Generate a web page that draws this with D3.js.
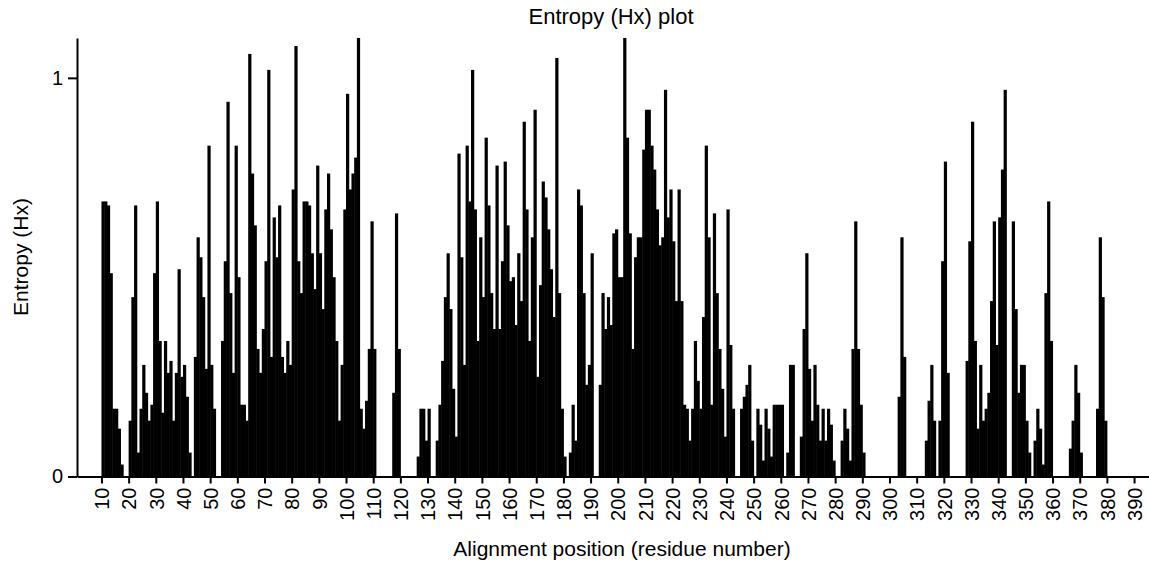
<!DOCTYPE html>
<html>
<head>
<meta charset="utf-8">
<script src="https://cdn.jsdelivr.net/npm/d3@7"></script>
<style>
  body { margin: 0; background: #fff; }
  svg { display: block; font-family: "Liberation Sans", Arial, sans-serif; }
</style>
</head>
<body>
<svg id="chart"></svg>
<script>
// entropy per alignment position, starting at position 10
const firstPosition = 10;
const entropy = [
  0.69, 0.69, 0.68, 0.51, 0.17, 0.17, 0.12, 0.03, 0, 0,          // 10
  0.14, 0.45, 0.68, 0.06, 0.17, 0.28, 0.21, 0.14, 0.18, 0.51,    // 20
  0.69, 0.34, 0.16, 0.34, 0.26, 0.29, 0.14, 0.26, 0.52, 0.25,    // 30
  0.28, 0.2, 0.06, 0, 0.3, 0.6, 0.55, 0.45, 0.27, 0.83,          // 40
  0.28, 0.17, 0, 0, 0.34, 0.54, 0.94, 0.46, 0.26, 0.83,          // 50
  0.5, 0.18, 0.18, 0.14, 1.06, 0.76, 0.63, 0.32, 0.26, 0.37,     // 60
  0.54, 1.02, 0.3, 0.65, 0.55, 0.68, 0.3, 0.26, 0.34, 0.28,      // 70
  0.72, 1.08, 0.54, 0.46, 0.69, 0.69, 0.68, 0.56, 0.47, 0.78,    // 80
  0.56, 0.42, 0.67, 0.76, 0.62, 0.5, 0.34, 0.14, 0.28, 0.67,     // 90
  0.96, 0.72, 0.76, 0.8, 1.1, 0.17, 0.12, 0.19, 0.32, 0.64,      // 100
  0.32, 0, 0, 0, 0, 0, 0, 0.21, 0.66, 0.32,                      // 110
  0, 0, 0, 0, 0, 0, 0.05, 0.17, 0.17, 0.09,                      // 120
  0.17, 0, 0, 0.09, 0.18, 0.29, 0.45, 0.56, 0.42, 0.22,          // 130
  0.1, 0.81, 0.55, 0.28, 0.83, 0.69, 1.02, 0.67, 0.34, 0.6,      // 140
  0.45, 0.85, 0.68, 0.46, 0.37, 0.78, 0.37, 0.54, 0.79, 0.63,    // 150
  0.49, 0.5, 0.38, 0.56, 0.44, 0.89, 0.67, 0.34, 0.6, 0.92,      // 160
  0.25, 0.48, 0.74, 0.7, 0.62, 0.52, 0.4, 1.05, 0.46, 0.17,      // 170
  0.05, 0, 0.06, 0.18, 0.09, 0.72, 0.68, 0.46, 0.23, 0.28,       // 180
  0.56, 0, 0, 0.23, 0.46, 0.37, 0.45, 0.38, 0.61, 0.62,          // 190
  0.5, 0.5, 1.1, 0.85, 0.61, 0.32, 0.55, 0.6, 0.6, 0.82,         // 200
  0.92, 0.92, 0.83, 0.77, 0.67, 0.58, 0.6, 0.97, 0.65, 0.72,     // 210
  0.59, 0.44, 0.72, 0.44, 0.18, 0.17, 0.09, 0.17, 0.34, 0.24,    // 220
  0.17, 0.4, 0.83, 0.6, 0.18, 0.66, 0.46, 0.32, 0.22, 0.1,       // 230
  0.67, 0.33, 0.17, 0, 0, 0.17, 0.2, 0.23, 0.28, 0.09,           // 240
  0, 0.17, 0.13, 0.04, 0.17, 0.12, 0.05, 0.18, 0.18, 0.18,       // 250
  0.18, 0, 0.06, 0.28, 0.28, 0, 0, 0.1, 0.37, 0.56,              // 260
  0.27, 0.14, 0.28, 0.18, 0.09, 0.17, 0.09, 0.17, 0.13, 0.04,    // 270
  0, 0, 0.09, 0.17, 0.12, 0.04, 0.32, 0.64, 0.32, 0.18,          // 280
  0.06, 0, 0, 0, 0, 0, 0, 0, 0, 0,                               // 290
  0, 0, 0, 0.2, 0.6, 0.3, 0, 0, 0, 0,                            // 300
  0, 0, 0, 0.09, 0.19, 0.28, 0.14, 0, 0.14, 0.54,                // 310
  0.79, 0.26, 0, 0, 0, 0, 0, 0, 0.29, 0.59,                      // 320
  0.89, 0.34, 0.12, 0.28, 0.14, 0.17, 0.21, 0.44, 0.64, 0.33,    // 330
  0.65, 0.77, 0.97, 0, 0, 0.64, 0.42, 0.21, 0.28, 0.28,          // 340
  0.14, 0.06, 0, 0.09, 0.17, 0.12, 0.03, 0.46, 0.69, 0.34,       // 350
  0, 0, 0, 0, 0, 0, 0.07, 0.14, 0.28, 0.21,                      // 360
  0.06, 0, 0, 0, 0, 0, 0.17, 0.6, 0.45, 0.14                     // 370
];
const xTicks = d3.range(10, 391, 10);
const yTicks = [0, 1];
const title = 'Entropy (Hx) plot';
const xLabel = 'Alignment position (residue number)';
const yLabel = 'Entropy (Hx)';

const width = 1149, height = 563;
const margin = {top: 38, right: 0, bottom: 86, left: 77};

const svg = d3.select('#chart')
  .attr('width', width)
  .attr('height', height);

const x = d3.scaleLinear()
  .domain([1, 395.5])
  .range([margin.left, width - margin.right]);
const y = d3.scaleLinear()
  .domain([0, 1.1])
  .range([height - margin.bottom - 0.5, margin.top]);

const bars = entropy
  .map((value, i) => ({pos: firstPosition + i, value}))
  .filter(d => d.value > 0);

// a little overlap so neighbouring bars merge into one solid block
svg.append('g')
  .attr('fill', '#000')
  .selectAll('rect')
  .data(bars)
  .join('rect')
    .attr('x', d => x(d.pos))
    .attr('width', d => x(d.pos + 1) - x(d.pos) + 0.5)
    .attr('y', d => y(d.value))
    .attr('height', d => y(0) - y(d.value));

// axes
const xAxis = svg.append('g')
  .attr('transform', `translate(0, ${y(0)})`)
  .call(d3.axisBottom(x).tickValues(xTicks).tickSize(7).tickSizeOuter(0));
xAxis.selectAll('text')
  .attr('transform', 'rotate(-90)')
  .attr('text-anchor', 'end')
  .attr('x', -11)
  .attr('y', 0)
  .attr('dy', '0.36em');

const yAxis = svg.append('g')
  .attr('transform', `translate(${x(1)}, 0)`)
  .call(d3.axisLeft(y).tickValues(yTicks).tickFormat(d3.format('d')).tickSize(9).tickSizeOuter(0).tickPadding(5));

for (const axis of [xAxis, yAxis]) {
  axis.select('.domain').attr('stroke-width', 2);
  axis.selectAll('.tick line').attr('stroke-width', 2);
  axis.selectAll('text').attr('font-size', 20).attr('fill', '#000');
  axis.attr('font-family', null);
}

// labels
svg.append('text')
  .attr('x', 611)
  .attr('y', 24)
  .attr('text-anchor', 'middle')
  .attr('font-size', 22)
  .text(title);
svg.append('text')
  .attr('x', 622)
  .attr('y', 556)
  .attr('text-anchor', 'middle')
  .attr('font-size', 21)
  .text(xLabel);
svg.append('text')
  .attr('transform', 'translate(28, 257) rotate(-90)')
  .attr('text-anchor', 'middle')
  .attr('font-size', 21)
  .text(yLabel);
</script>
</body>
</html>
